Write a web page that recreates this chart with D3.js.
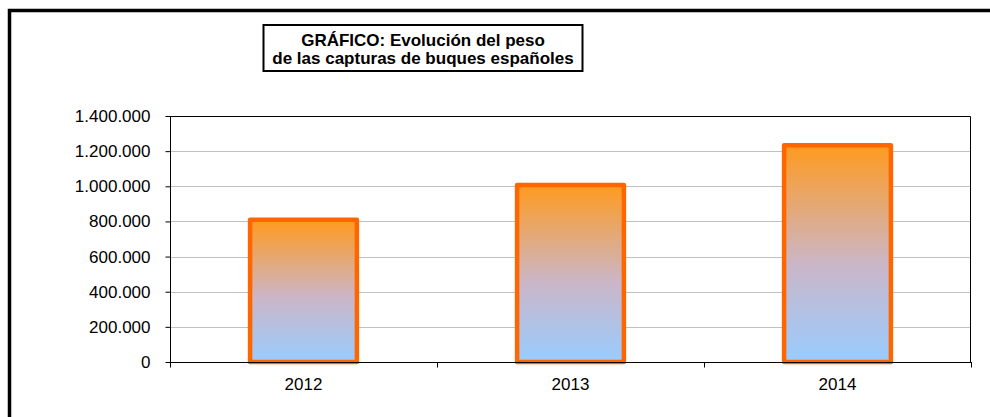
<!DOCTYPE html>
<html>
<head>
<meta charset="utf-8">
<script src="https://cdn.jsdelivr.net/npm/d3@7"></script>
<style>
  body { margin: 0; background: #fff; }
  text { font-family: "Liberation Sans", Arial, sans-serif; fill: #000; }
</style>
</head>
<body>
<div id="chart"></div>
<script>
// data
var years = ["2012", "2013", "2014"];
var peso = [809000, 1008000, 1233000];
var yTicks = [0, 200000, 400000, 600000, 800000, 1000000, 1200000, 1400000];
var titleLines = ["GRÁFICO: Evolución del peso", "de las capturas de buques españoles"];

var W = 990, H = 417;
var margin = {top: 116, right: 19, bottom: 55, left: 170};
var width = W - margin.left - margin.right,
    height = H - margin.top - margin.bottom;

var svg = d3.select("#chart").append("svg")
    .attr("width", W)
    .attr("height", H);

// gradient for bars
var grad = svg.append("defs").append("linearGradient")
    .attr("id", "barGrad")
    .attr("x1", 0).attr("y1", 1).attr("x2", 0).attr("y2", 0);
grad.append("stop").attr("offset", "0%").attr("stop-color", "#99ccff");
grad.append("stop").attr("offset", "45%").attr("stop-color", "#cbb6c8");
grad.append("stop").attr("offset", "100%").attr("stop-color", "#ff9a1f");

// outer frame (only top and left visible)
svg.append("path")
    .attr("d", "M9.5," + H + "V10.5H" + W)
    .attr("fill", "none")
    .attr("stroke", "#000")
    .attr("stroke-width", 3.5);

// title box
var tb = svg.append("g");
tb.append("rect")
    .attr("x", 263.5).attr("y", 25)
    .attr("width", 319).attr("height", 46)
    .attr("fill", "#fff")
    .attr("stroke", "#000")
    .attr("stroke-width", 2);
tb.selectAll("text.title")
    .data(titleLines)
    .enter().append("text")
    .attr("class", "title")
    .attr("x", 423)
    .attr("y", function(d, i) { return 45.5 + i * 18.5; })
    .attr("text-anchor", "middle")
    .style("font-size", "17px")
    .style("font-weight", "bold")
    .text(function(d) { return d; });

var g = svg.append("g")
    .attr("transform", "translate(" + margin.left + "," + margin.top + ")");

var x = d3.scaleBand().domain(years).range([0, width]).paddingInner(0).paddingOuter(0);
var y = d3.scaleLinear().domain([0, 1400000]).range([height, 0]);

var fmt = function(d) {
    return d3.format(",")(d).replace(/,/g, ".");
};

// gridlines
g.selectAll("line.grid")
    .data(yTicks.filter(function(d) { return d > 0 && d < 1400000; }))
    .enter().append("line")
    .attr("class", "grid")
    .attr("x1", 0).attr("x2", width)
    .attr("y1", function(d) { return Math.round(y(d)) + 0.5; })
    .attr("y2", function(d) { return Math.round(y(d)) + 0.5; })
    .attr("stroke", "#c0c0c0")
    .attr("stroke-width", 1);

// plot area border top / right
g.append("path")
    .attr("d", "M0,0.5H" + (width - 0.5) + "V" + height)
    .attr("fill", "none")
    .attr("stroke", "#000")
    .attr("stroke-width", 1);

// bars
var barW = x.bandwidth() * 0.4;
g.selectAll("rect.bar")
    .data(peso)
    .enter().append("rect")
    .attr("class", "bar")
    .attr("x", function(d, i) { return x(years[i]) + (x.bandwidth() - barW) / 2; })
    .attr("y", function(d) { return y(d); })
    .attr("width", barW)
    .attr("height", function(d) { return height - y(d); })
    .attr("fill", "url(#barGrad)")
    .attr("stroke", "#ff6600")
    .attr("stroke-width", 4.5)
    .attr("stroke-linejoin", "round");

// y axis
var yAxis = d3.axisLeft(y).tickValues(yTicks).tickFormat(fmt).tickSize(5).tickPadding(15);
var yg = g.append("g").attr("transform", "translate(0.5,0)").call(yAxis);
yg.select(".domain").attr("stroke", "#000").attr("d", "M0,0V" + height);
yg.selectAll(".tick line").attr("stroke", "#000");
yg.selectAll(".tick text")
    .style("font-family", "'Liberation Sans', Arial, sans-serif")
    .style("font-size", "17px")
    .attr("fill", "#000");

// x axis: ticks between categories
var xg = g.append("g").attr("transform", "translate(0," + (Math.round(height) + 0.5) + ")");
xg.append("line")
    .attr("x1", 0).attr("x2", width)
    .attr("stroke", "#000");
xg.selectAll("line.xt")
    .data(years.concat(["end"]))
    .enter().append("line")
    .attr("class", "xt")
    .attr("x1", function(d, i) { return Math.round(i * x.bandwidth()) + 0.5; })
    .attr("x2", function(d, i) { return Math.round(i * x.bandwidth()) + 0.5; })
    .attr("y1", -0.5).attr("y2", 5)
    .attr("stroke", "#000");
xg.selectAll("text.xl")
    .data(years)
    .enter().append("text")
    .attr("class", "xl")
    .attr("x", function(d) { return x(d) + x.bandwidth() / 2; })
    .attr("y", 27)
    .attr("text-anchor", "middle")
    .style("font-size", "17px")
    .text(function(d) { return d; });
</script>
</body>
</html>
